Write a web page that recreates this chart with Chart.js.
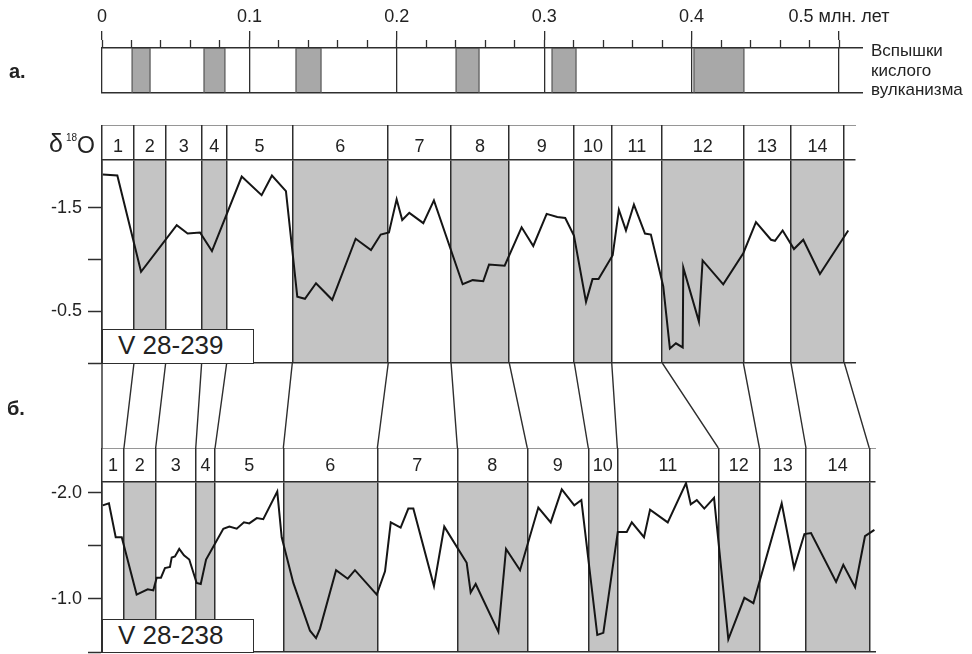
<!DOCTYPE html>
<html><head><meta charset="utf-8">
<script src="https://cdn.jsdelivr.net/npm/chart.js@4/dist/chart.umd.min.js"></script>
<style>
html,body{margin:0;padding:0;width:972px;height:654px;overflow:hidden;background:#fff;font-family:"Liberation Sans",Arial,sans-serif;color:#222}
.c{position:absolute;left:0;width:972px}
.t{position:absolute;white-space:nowrap;line-height:1}
.box{position:absolute;background:#fff;border:1.5px solid #2e2e2e;box-sizing:border-box;font-size:26px;line-height:31px;padding-left:15px;color:#222}
</style></head><body>
<div class="c" style="top:0;height:95px"><canvas id="cT"></canvas></div>
<div class="c" style="top:125px;height:240px"><canvas id="cU"></canvas></div>
<div class="c" style="top:363px;height:85px"><canvas id="cC"></canvas></div>
<div class="c" style="top:448px;height:206px"><canvas id="cL"></canvas></div>

<div class="t" style="left:9px;top:61px;font-size:20px;font-weight:bold">а.</div>
<div class="t" style="left:7px;top:398px;font-size:20px;font-weight:bold">б.</div>
<div class="t" style="left:49px;top:131px;font-size:25px">δ</div>
<div class="t" style="left:66px;top:133px;font-size:10px">18</div>
<div class="t" style="left:77px;top:134px;font-size:23px">O</div>
<div class="t" style="left:871px;top:41px;font-size:17px;line-height:19.5px">Вспышки<br>кислого<br>вулканизма</div>
<div class="box" style="left:102px;top:329px;width:152px;height:35px">V 28-239</div>
<div class="box" style="left:102px;top:619px;width:152px;height:34px">V 28-238</div>

<script>
// ---------- data ----------
const TIME_TICKS = [0, 0.1, 0.2, 0.3, 0.4, 0.5];
const TIME_LABELS = ['0', '0.1', '0.2', '0.3', '0.4', '0.5 млн. лет'];
const VOLCANIC_START = [0.0204, 0.0692, 0.1316, 0.2402, 0.3053, 0.4016];
const VOLCANIC_END   = [0.0326, 0.0834, 0.1486, 0.2558, 0.3216, 0.4355];

const STAGES = ['1','2','3','4','5','6','7','8','9','10','11','12','13','14'];
const BOUNDS_239 = [0, 0.0217, 0.0432, 0.0676, 0.0846, 0.1291, 0.1942, 0.2368, 0.2763, 0.3204, 0.3458, 0.3801, 0.4351, 0.4674, 0.5036];
const BOUNDS_238 = [0, 0.0149, 0.0364, 0.0636, 0.0767, 0.1230, 0.1868, 0.2411, 0.2885, 0.3299, 0.3496, 0.4181, 0.4460, 0.4776, 0.5205];

const AGE_239 = [0.0005,0.0104,0.0265,0.0507,0.0581,0.0665,0.0746,0.0948,0.1083,0.1153,0.1248,0.1325,0.1377,0.1452,0.1562,0.1721,0.1825,0.1891,0.1947,0.1999,0.2037,0.2085,0.2180,0.2252,0.2447,0.2515,0.2587,0.2626,0.2732,0.2847,0.2926,0.3017,0.3089,0.3143,0.3202,0.3284,0.3328,0.3369,0.3465,0.3507,0.3555,0.3609,0.3684,0.3724,0.3808,0.3853,0.3894,0.3940,0.3944,0.4050,0.4075,0.4215,0.4351,0.4437,0.4539,0.4566,0.4618,0.4695,0.4758,0.4871,0.5063];
const D18O_239 = [-1.82,-1.81,-0.88,-1.33,-1.25,-1.26,-1.08,-1.80,-1.62,-1.81,-1.66,-0.64,-0.62,-0.77,-0.61,-1.20,-1.09,-1.24,-1.26,-1.58,-1.38,-1.45,-1.35,-1.57,-0.76,-0.80,-0.79,-0.95,-0.94,-1.31,-1.13,-1.44,-1.41,-1.40,-1.23,-0.59,-0.81,-0.81,-1.04,-1.48,-1.28,-1.53,-1.25,-1.24,-0.74,-0.14,-0.19,-0.15,-0.92,-0.40,-0.99,-0.76,-1.06,-1.36,-1.19,-1.18,-1.28,-1.10,-1.19,-0.86,-1.28];

const AGE_238 = [0.0005,0.0047,0.0093,0.0134,0.0235,0.0310,0.0348,0.0371,0.0400,0.0427,0.0461,0.0473,0.0495,0.0524,0.0556,0.0592,0.0642,0.0670,0.0706,0.0823,0.0864,0.0914,0.0963,0.0999,0.1050,0.1094,0.1189,0.1219,0.1298,0.1411,0.1452,0.1479,0.1588,0.1667,0.1716,0.1864,0.1920,0.1959,0.2026,0.2078,0.2112,0.2252,0.2322,0.2474,0.2501,0.2535,0.2689,0.2741,0.2836,0.2960,0.3044,0.3119,0.3204,0.3252,0.3360,0.3401,0.3499,0.3560,0.3594,0.3677,0.3718,0.3838,0.3962,0.3994,0.4035,0.4086,0.4152,0.4249,0.4358,0.4419,0.4611,0.4695,0.4765,0.4810,0.4980,0.5029,0.5109,0.5176,0.5240];
const D18O_238 = [-1.88,-1.90,-1.58,-1.58,-1.04,-1.09,-1.08,-1.20,-1.20,-1.29,-1.30,-1.39,-1.40,-1.47,-1.41,-1.37,-1.15,-1.14,-1.37,-1.66,-1.68,-1.66,-1.72,-1.71,-1.76,-1.75,-2.01,-1.58,-1.15,-0.70,-0.63,-0.72,-1.27,-1.19,-1.27,-1.04,-1.26,-1.72,-1.67,-1.85,-1.85,-1.12,-1.68,-1.34,-1.06,-1.14,-0.69,-1.47,-1.27,-1.86,-1.72,-2.03,-1.88,-1.93,-0.66,-0.68,-1.63,-1.63,-1.72,-1.58,-1.84,-1.72,-2.09,-1.89,-1.93,-1.85,-1.95,-0.62,-1.01,-0.96,-1.90,-1.29,-1.61,-1.62,-1.16,-1.32,-1.11,-1.59,-1.65];

const YTICKS_239 = [-1.5, -1.0, -0.5, 0.0];
const YLABELS_239 = ['-1.5', '', '-0.5', ''];
const YTICKS_238 = [-2.0, -1.5, -1.0, -0.5];
const YLABELS_238 = ['-2.0', '', '-1.0', ''];

// ---------- layout / style ----------
const Y_RANGE_239 = [-1.96, 0.0];
const Y_RANGE_238 = [-2.10, -0.5];
const XMAX_T = 0.5156, XMAX_U = 0.5109, XMAX_L = 0.5244;
const LINE = '#2e2e2e', SHADE = '#c4c4c4', VOLC = '#a8a8a8', CURVE = '#151515';
const CLEAR = 'rgba(0,0,0,0)';

Chart.defaults.font.family = '"Liberation Sans", Arial, sans-serif';
Chart.defaults.font.size = 18;
Chart.defaults.color = '#222';

function base(padLeft, padRight, padBottom, scales) {
  return {
    responsive: true, maintainAspectRatio: false, animation: false, events: [],
    layout: { padding: { left: padLeft, right: padRight, top: 0, bottom: padBottom } },
    plugins: { legend: { display: false }, tooltip: { enabled: false }, filler: { drawTime: 'beforeDraw' } },
    scales
  };
}
function bottomLine(max) {
  return { type: 'linear', position: 'bottom', min: 0, max,
    afterFit: s => { s.height = 0; s.paddingLeft = 0; s.paddingRight = 0; },
    ticks: { display: false }, grid: { display: false },
    border: { display: true, color: LINE, width: 1.5 } };
}
function topLine(max) {
  return { type: 'linear', position: 'top', min: 0, max, weight: 5,
    afterFit: s => { s.height = 0; s.paddingLeft = 0; s.paddingRight = 0; },
    ticks: { display: false }, grid: { display: false },
    border: { display: true, color: LINE, width: 1.5 } };
}
function stageAxis(bounds, max, rowH, pad) {
  const mids = bounds.slice(0, -1).map((b, i) => (b + bounds[i + 1]) / 2);
  const tk = bounds.map(v => ({ value: v, b: true }))
    .concat(mids.map((v, i) => ({ value: v, b: false, lab: STAGES[i] })))
    .sort((p, q) => p.value - q.value);
  const col = c => (c.tick && c.tick.b) ? LINE : CLEAR;
  return { type: 'linear', position: 'top', min: 0, max, weight: 0,
    afterBuildTicks: s => { s.ticks = tk.map(t => Object.assign({}, t)); },
    afterFit: s => { s.height = rowH; s.paddingLeft = 0; s.paddingRight = 0; },
    ticks: { autoSkip: false, maxRotation: 0, minRotation: 0, padding: pad, color: '#222',
      callback: (v, i, arr) => (arr[i] && !arr[i].b) ? arr[i].lab : '' },
    grid: { drawOnChartArea: true, drawTicks: true, tickLength: rowH, color: col, tickColor: col, lineWidth: 1.5, tickWidth: 1.5 },
    border: { display: true, color: LINE, width: 1.5 } };
}
function yAxis(range, ticks, labels) {
  return { type: 'linear', position: 'left', reverse: true, min: range[0], max: range[1],
    afterBuildTicks: s => { s.ticks = ticks.map(v => ({ value: v })); },
    afterFit: s => { s.width = 102; s.paddingTop = 0; s.paddingBottom = 0; },
    ticks: { autoSkip: false, padding: 6, color: '#222', callback: (v, i) => labels[i] },
    grid: { drawOnChartArea: false, drawTicks: true, tickLength: 14, color: LINE, tickColor: LINE, tickWidth: 1.5 },
    border: { display: true, color: LINE, width: 1.5 } };
}
function bands(bounds, yTop) {
  const out = [];
  for (let i = 1; i < bounds.length - 1; i += 2) {
    out.push({ data: [{ x: bounds[i], y: yTop }, { x: bounds[i + 1], y: yTop }],
      fill: 'start', backgroundColor: SHADE, borderColor: CLEAR, borderWidth: 0, pointRadius: 0 });
  }
  return out;
}
function curve(ages, vals) {
  return { data: ages.map((x, i) => ({ x, y: vals[i] })), fill: false, borderColor: CURVE,
    borderWidth: 2, pointRadius: 0, tension: 0, borderJoinStyle: 'miter' };
}

// ---------- a. timeline with volcanic flashes ----------
const minorTicks = [];
for (let k = 0; k <= 25; k++) minorTicks.push(+(k * 0.02).toFixed(2));
new Chart(document.getElementById('cT'), {
  type: 'line',
  data: { datasets: VOLCANIC_START.map((a, i) => ({
    data: [{ x: a, y: 0 }, { x: a, y: 1 }, { x: VOLCANIC_END[i], y: 1 }, { x: VOLCANIC_END[i], y: 0 }],
    fill: 'start', backgroundColor: VOLC, borderColor: '#555', borderWidth: 1.2, pointRadius: 0 })) },
  options: base(102, 110, 2, {
    x: bottomLine(XMAX_T),
    xm: { type: 'linear', position: 'top', min: 0, max: XMAX_T, weight: 0,
      afterBuildTicks: s => { s.ticks = minorTicks.map(v => ({ value: v })); },
      afterFit: s => { s.height = 8; },
      ticks: { display: false, autoSkip: false },
      grid: { drawOnChartArea: false, drawTicks: true, tickLength: 8, tickColor: LINE, tickWidth: 1.3 },
      border: { display: true, color: LINE, width: 1.5 } },
    xM: { type: 'linear', position: 'top', min: 0, max: XMAX_T, weight: 1,
      afterBuildTicks: s => { s.ticks = TIME_TICKS.map(v => ({ value: v })); },
      afterFit: s => { s.height = 40; },
      ticks: { autoSkip: false, maxRotation: 0, minRotation: 0, padding: 3, color: '#222',
        callback: (v, i) => TIME_LABELS[i] },
      grid: { drawOnChartArea: true, drawTicks: true, tickLength: 9, color: LINE, tickColor: LINE, lineWidth: 1.3, tickWidth: 1.3 },
      border: { display: false } },
    y: { display: false, min: 0, max: 1 }
  })
});

// ---------- upper core V 28-239 ----------
new Chart(document.getElementById('cU'), {
  type: 'line',
  data: { datasets: bands(BOUNDS_239, Y_RANGE_239[0]).concat([curve(AGE_239, D18O_239)]) },
  options: base(0, 117, 2, {
    x: bottomLine(XMAX_U),
    xr: stageAxis(BOUNDS_239, XMAX_U, 35, -33),
    xtop: topLine(XMAX_U),
    y: yAxis(Y_RANGE_239, YTICKS_239, YLABELS_239)
  })
});

// ---------- connectors between stage boundaries ----------
const links = [];
BOUNDS_239.forEach((b, i) => { links.push({ x: b, y: 1 }, { x: BOUNDS_238[i], y: 0 }, { x: BOUNDS_238[i], y: null }); });
new Chart(document.getElementById('cC'), {
  type: 'line',
  data: { datasets: [{ data: links, borderColor: LINE, borderWidth: 1.4, pointRadius: 0, fill: false, spanGaps: false, clip: false }] },
  options: base(102, 97, 0, {
    x: { type: 'linear', display: false, min: 0, max: XMAX_L },
    y: { display: false, min: 0, max: 1 }
  })
});

// ---------- lower core V 28-238 ----------
new Chart(document.getElementById('cL'), {
  type: 'line',
  data: { datasets: bands(BOUNDS_238, Y_RANGE_238[0]).concat([curve(AGE_238, D18O_238)]) },
  options: base(0, 97, 2, {
    x: bottomLine(XMAX_L),
    xr: stageAxis(BOUNDS_238, XMAX_L, 34, -29),
    xtop: topLine(XMAX_L),
    y: yAxis(Y_RANGE_238, YTICKS_238, YLABELS_238)
  })
});
</script>
</body></html>
